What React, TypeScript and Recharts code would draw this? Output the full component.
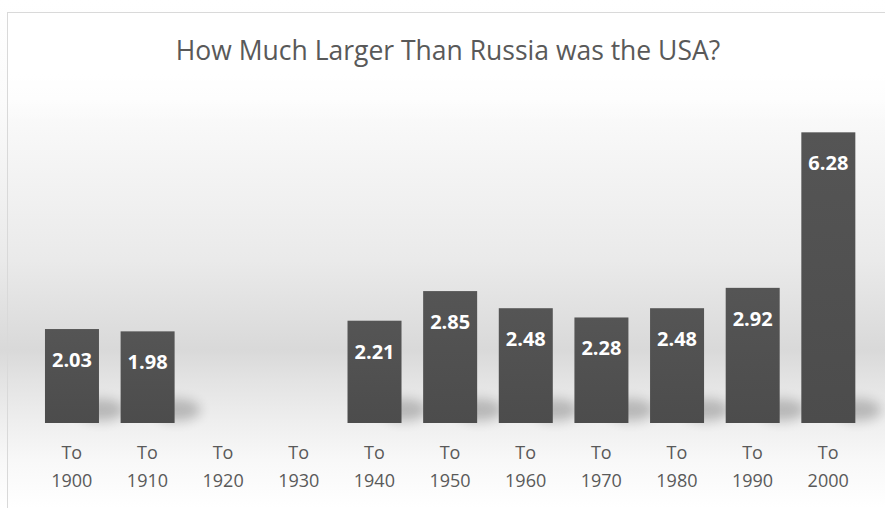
import { Bar, BarChart, LabelList, XAxis, YAxis } from 'recharts'

const categories = ['To 1900', 'To 1910', 'To 1920', 'To 1930', 'To 1940', 'To 1950', 'To 1960', 'To 1970', 'To 1980', 'To 1990', 'To 2000']
const ratios: (number | null)[] = [2.03, 1.98, null, null, 2.21, 2.85, 2.48, 2.28, 2.48, 2.92, 6.28]
const yTicks = [0, 1, 2, 3, 4, 5, 6, 7]

const rows = categories.map((label, i) => ({ label, ratio: ratios[i] }))

const TEXT = '#595959'
const FONT = '"Open Sans", "Liberation Sans", sans-serif'

function ShadowBar(props: any) {
  const { x, y, width, height } = props
  if (height == null || height <= 0) return null
  const bottom = y + height
  return (
    <g>
      <ellipse cx={x + width + 2} cy={bottom - 13} rx={24} ry={11} fill="#000" opacity={0.22} filter="url(#barShadow)" />
      <rect x={x} y={y} width={width} height={height} fill="url(#barFill)" />
    </g>
  )
}

function ValueLabel(props: any) {
  const { x, y, width, value } = props
  if (value == null) return null
  return (
    <text x={x + width / 2} y={y + 38} textAnchor="middle" fill="#fff" fontFamily={FONT} fontWeight={700} fontSize={20}>
      {Number(value).toFixed(2)}
    </text>
  )
}

function TwoLineTick(props: any) {
  const { x, y, payload } = props
  const [first, second] = String(payload.value).split(' ')
  return (
    <text x={x} y={y} textAnchor="middle" fill={TEXT} fontFamily={FONT} fontSize={18}>
      <tspan x={x} dy={36}>{first}</tspan>
      <tspan x={x} dy={28}>{second}</tspan>
    </text>
  )
}

export default function App() {
  return (
    <div
      style={{
        position: 'fixed',
        left: 0,
        top: 0,
        width: 885,
        height: 508,
        background:
          'linear-gradient(to bottom, #ffffff 0px, #fbfbfb 100px, #eaeaea 260px, #d9d9d9 350px, #e3e3e3 380px, #eeeeee 420px, #f8f8f8 460px, #ffffff 508px)',
        overflow: 'hidden',
      }}
    >
      <svg width={0} height={0} style={{ position: 'absolute' }}>
        <defs>
          <filter id="barShadow" x="-100%" y="-100%" width="300%" height="300%">
            <feGaussianBlur stdDeviation={6} />
          </filter>
          <linearGradient id="barFill" x1="0" y1="0" x2="0" y2="1">
            <stop offset="0%" stopColor="#555555" />
            <stop offset="100%" stopColor="#4c4c4c" />
          </linearGradient>
        </defs>
      </svg>
      <div
        style={{
          position: 'absolute',
          left: 7,
          top: 12,
          right: 0,
          bottom: 0,
          borderTop: '1px solid #d9d9d9',
          borderLeft: '1px solid #d9d9d9',
          background: 'linear-gradient(to bottom, #ffffff 0px, #ffffff 60px, rgba(255,255,255,0) 110px)',
        }}
      />
      <div
        style={{
          position: 'absolute',
          left: 12,
          top: 37,
          width: 872,
          textAlign: 'center',
          fontFamily: FONT,
          fontSize: 26.5,
          lineHeight: '26px',
          color: TEXT,
        }}
      >
        How Much Larger Than Russia was the USA?
      </div>
      <div style={{ position: 'absolute', left: 0, top: 0 }}>
        <BarChart width={885} height={508} data={rows} margin={{ top: 99, right: 19, left: 34, bottom: 0 }} barCategoryGap="14.5%">
          <XAxis
            dataKey="label"
            axisLine={false}
            tickLine={false}
            tickSize={0}
            tickMargin={0}
            height={85}
            interval={0}
            tick={<TwoLineTick />}
          />
          <YAxis hide domain={[0, 7]} ticks={yTicks} />
          <Bar dataKey="ratio" shape={<ShadowBar />} isAnimationActive={false}>
            <LabelList dataKey="ratio" content={<ValueLabel />} />
          </Bar>
        </BarChart>
      </div>
    </div>
  )
}
